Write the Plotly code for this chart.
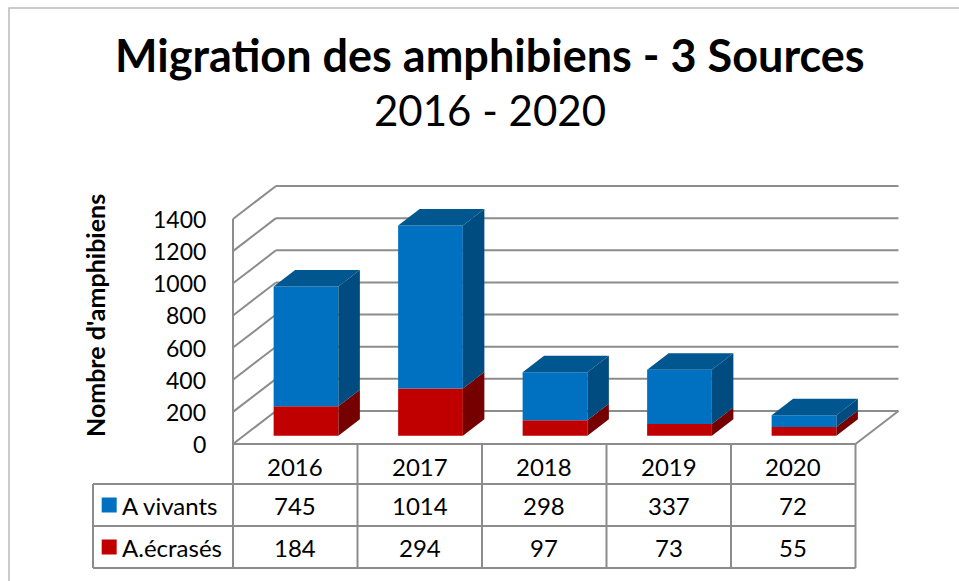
import plotly.graph_objects as go

# ---------------- data ----------------
years = ["2016", "2017", "2018", "2019", "2020"]
vivants = [745, 1014, 298, 337, 72]
ecrases = [184, 294, 97, 73, 55]
series_names = ["A vivants", "A.écrasés"]
y_ticks = [0, 200, 400, 600, 800, 1000, 1200, 1400]

title_text = "Migration des amphibiens - 3 Sources"
subtitle_text = "2016 - 2020"
y_title = "Nombre d'amphibiens"

# ---------------- layout geometry (pixels) ----------------
W, H = 959, 581
X0 = 233.0          # left edge of the front plane (category boundary)
CW = 124.5          # pixels per category
Y0 = 444.0          # pixel of value 0 on the front plane
PPU = 225.0 / 1400  # pixels per unit
DEPTH_PX = (43.0, 33.0)
T_FRONT, T_BACK = 0.25, 0.75
BAR_W = 0.52
LEG_LEFT_PX = 93.0
ROW_PX = [444.0, 484.0, 526.0, 568.0]

FONT = "Lato"
GRID = "#8C8C8C"
BLUE = ["#0070C0", "#004B80", "#00578F"]   # front, side, top
RED = ["#C00000", "#760000", "#900000"]

def px_to_x(px):
    return -0.5 + (px - X0) / CW

def py_to_y(py):
    return (Y0 - py) / PPU

DX = DEPTH_PX[0] / CW
DY = DEPTH_PX[1] / PPU

fig = go.Figure()
shapes = []
annotations = []

def line(x0, y0, x1, y1, color=GRID, width=2, layer="below"):
    shapes.append(dict(type="line", xref="x", yref="y", x0=x0, y0=y0, x1=x1, y1=y1,
                       line=dict(color=color, width=width), layer=layer))

# back wall gridlines + left wall diagonals
x_left = -0.5
x_right = len(years) - 0.5
for v in y_ticks:
    line(x_left + DX, v + DY, x_right + DX, v + DY)
    line(x_left, v, x_left + DX, v + DY)
# front vertical axis line
line(x_left, 0, x_left, y_ticks[-1])
# right floor edge
line(x_right, 0, x_right + DX, DY)

# tick labels
for v in y_ticks:
    annotations.append(dict(x=x_left, y=v, xref="x", yref="y", text=str(v), showarrow=False,
                            xanchor="right", yanchor="middle", xshift=-25,
                            font=dict(family=FONT, size=23, color="black")))

# ---------------- bars ----------------
fdx, fdy = T_FRONT * DX, T_FRONT * DY
bdx, bdy = (T_BACK - T_FRONT) * DX, (T_BACK - T_FRONT) * DY
xs = [i + fdx for i in range(len(years))]

fig.add_trace(go.Bar(x=xs, y=ecrases, base=[fdy] * len(years), width=BAR_W,
                     marker=dict(color=RED[0], line=dict(width=0)), showlegend=False,
                     hoverinfo="skip"))
fig.add_trace(go.Bar(x=xs, y=vivants, base=[fdy + e for e in ecrases], width=BAR_W,
                     marker=dict(color=BLUE[0], line=dict(width=0)), showlegend=False,
                     hoverinfo="skip"))

def poly(px, py, color):
    fig.add_trace(go.Scatter(x=px + [px[0]], y=py + [py[0]], mode="lines", fill="toself",
                             fillcolor=color, line=dict(width=0, color=color),
                             showlegend=False, hoverinfo="skip"))

for i in range(len(years)):
    xl = xs[i] - BAR_W / 2
    xr = xs[i] + BAR_W / 2
    b = fdy
    m = fdy + ecrases[i]
    t = m + vivants[i]
    # red side
    poly([xr, xr + bdx, xr + bdx, xr], [b, b + bdy, m + bdy, m], RED[1])
    # blue side
    poly([xr, xr + bdx, xr + bdx, xr], [m, m + bdy, t + bdy, t], BLUE[1])
    # top
    poly([xl, xl + bdx, xr + bdx, xr], [t, t + bdy, t + bdy, t], BLUE[2])

# ---------------- data table ----------------
ry = [py_to_y(p) for p in ROW_PX]
leg_x = px_to_x(LEG_LEFT_PX)
# horizontal lines
line(x_left, ry[0], x_right, ry[0], layer="above")
for r in ry[1:]:
    line(leg_x, r, x_right, r, layer="above")
# vertical lines
line(leg_x, ry[1], leg_x, ry[3], layer="above")
for k in range(len(years) + 1):
    line(x_left + k, ry[0], x_left + k, ry[3], layer="above")

tfont = dict(family=FONT, size=24, color="black")
for i, yr in enumerate(years):
    annotations.append(dict(x=i, y=(ry[0] + ry[1]) / 2, xref="x", yref="y", text=yr,
                            showarrow=False, font=tfont, yshift=-2))
    annotations.append(dict(x=i, y=(ry[1] + ry[2]) / 2, xref="x", yref="y", text=str(vivants[i]),
                            showarrow=False, font=tfont))
    annotations.append(dict(x=i, y=(ry[2] + ry[3]) / 2, xref="x", yref="y", text=str(ecrases[i]),
                            showarrow=False, font=tfont))

for name, col, (r0, r1) in zip(series_names, [BLUE[0], RED[0]], [(ry[1], ry[2]), (ry[2], ry[3])]):
    yc = (r0 + r1) / 2
    fig.add_trace(go.Scatter(x=[leg_x + 0.13], y=[yc], mode="markers",
                             marker=dict(symbol="square", size=15, color=col, line=dict(width=0)),
                             showlegend=False, hoverinfo="skip"))
    annotations.append(dict(x=leg_x + 0.22, y=yc, xref="x", yref="y", text=name, showarrow=False,
                            xanchor="left", font=tfont))

# ---------------- titles ----------------
annotations.append(dict(x=490 / W, y=1 - 55 / H, xref="paper", yref="paper", text="<b>" + title_text + "</b>",
                        showarrow=False, xanchor="center", yanchor="middle",
                        font=dict(family=FONT, size=45, color="black")))
annotations.append(dict(x=490 / W, y=1 - 110 / H, xref="paper", yref="paper", text=subtitle_text,
                        showarrow=False, xanchor="center", yanchor="middle",
                        font=dict(family=FONT, size=42, color="black")))
annotations.append(dict(x=95 / W, y=1 - 316 / H, xref="paper", yref="paper", text="<b>" + y_title + "</b>",
                        showarrow=False, textangle=-90, xanchor="center", yanchor="middle",
                        font=dict(family=FONT, size=25, color="black")))

# outer frame
shapes.append(dict(type="rect", xref="paper", yref="paper", x0=9 / W, y0=-0.02, x1=1.02, y1=1 - 8 / H,
                   line=dict(color="#BBBBBB", width=1.5), layer="below"))

fig.update_layout(
    width=W, height=H, autosize=False,
    margin=dict(l=0, r=0, t=0, b=0),
    paper_bgcolor="white", plot_bgcolor="white",
    barmode="overlay",
    xaxis=dict(range=[px_to_x(0), px_to_x(W)], visible=False, fixedrange=True),
    yaxis=dict(range=[py_to_y(H), py_to_y(0)], visible=False, fixedrange=True),
    shapes=shapes, annotations=annotations, showlegend=False,
)

fig.write_html("out.html", config={"displayModeBar": False},
               post_script="document.body.style.margin='0';document.body.style.overflow='hidden';")
